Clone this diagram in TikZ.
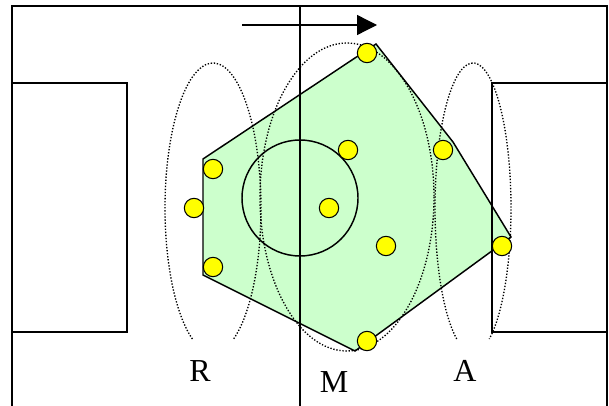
\documentclass[tikz,border=0pt]{standalone}
\usepackage{fontspec}
\setmainfont{Liberation Serif}
\usepackage{xcolor}
\usetikzlibrary{arrows.meta}
\usetikzlibrary{math}
\definecolor{mygreen}{RGB}{204, 255, 204}
\definecolor{myyellow}{RGB}{255, 255, 0}

\begin{document}
\begin{tikzpicture}[x=0.75pt, y=-0.75pt,
  ball/.style={circle, draw, fill=myyellow, line width=0.8pt, minimum size=14.5pt, inner sep=0pt},
  zone/.style={line width=1pt, dash pattern=on 1pt off 1.3pt},
  lbl/.style={anchor=base, font=\fontsize{24}{28}\selectfont}]
\tikzmath{
\cut=64.6;
}

 \useasboundingbox (0,0) rectangle (609,406);

 \coordinate (P1) at (376,44);
 \coordinate (P2) at (453,142);
 \coordinate (P3) at (511,237);
 \coordinate (P4) at (355,351);
 \coordinate (P5) at (203,275);
 \coordinate (P6) at (203,159);

 %team shape
 \filldraw[fill=mygreen, line width=1.1pt] (P1) -- (P2) -- (P3) -- (P4) -- (P5) -- (P6) -- cycle;

 %pitch
 \draw[line width=1.5pt] (12,406) -- (12,6) -- (607,6) -- (607,406);
 \draw[line width=1.5pt] (300,6) -- (300,406);
 \draw[line width=1.1pt] (12,83) -- (127,83) -- (127,332) -- (12,332);
 \draw[line width=1.1pt] (607,83) -- (492,83) -- (492,332) -- (607,332);
 \draw[line width=1.1pt] (300,198) circle[radius=58];

 %play direction
 \coordinate (D1) at (242,25);
 \coordinate (D2) at (377,25);
 \draw[line width=1pt, -{Triangle[length=15pt, width=15pt]}] (D1) -- (D2);

 %lines R, M, A
 \draw[zone] (213,208) ++(180-\cut:48 and 145) arc[start angle=180-\cut, end angle=360+\cut, x radius=48, y radius=145];
 \draw[zone] (347,197) ellipse[x radius=87, y radius=154];
 \draw[zone] (473,208) ++(180-\cut:38 and 145) arc[start angle=180-\cut, end angle=360+\cut, x radius=38, y radius=145];

 \node[lbl] (labR) at (200,381) {R};
 \node[lbl] (labM) at (334,392) {M};
 \node[lbl] (labA) at (465,381) {A};

 %players
 \node[ball] (b1) at (213,169) {};
 \node[ball] (b2) at (194,208) {};
 \node[ball] (b3) at (213,267) {};
 \node[ball] (b4) at (348,150) {};
 \node[ball] (b5) at (329,208) {};
 \node[ball] (b6) at (386,246) {};
 \node[ball] (b7) at (443,150) {};
 \node[ball] (b8) at (502,246) {};
 \node[ball] (b9) at (367,53) {};
 \node[ball] (b10) at (367,341) {};

\end{tikzpicture}
\end{document}
